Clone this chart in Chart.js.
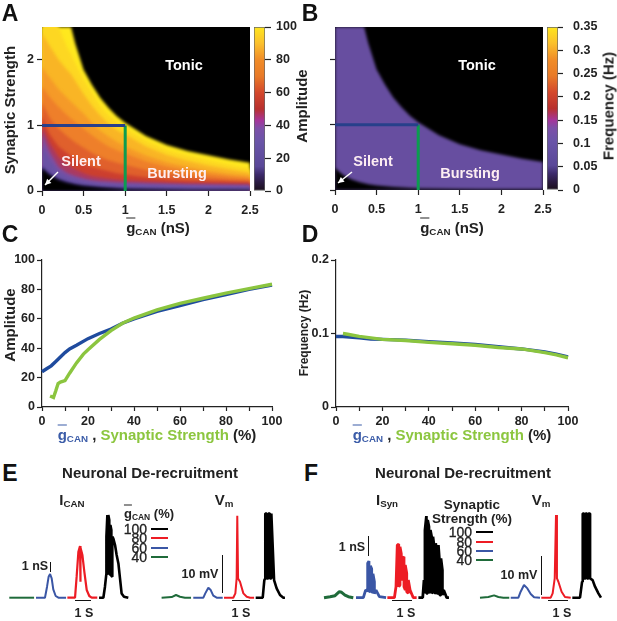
<!DOCTYPE html>
<html>
<head>
<meta charset="utf-8">
<script src="https://cdn.jsdelivr.net/npm/chart.js@4"></script>
<style>
  html, body { margin: 0; padding: 0; background: #fff; }
  #page { position: relative; width: 617px; height: 621px; overflow: hidden; font-family: "Liberation Sans", Arial, sans-serif; color: #222; }
  canvas { position: absolute; }
  .t { position: absolute; white-space: nowrap; transform: translate(-50%, -50%); font-weight: bold; font-size: 15px; line-height: 1; }
  .t sub { font-size: 0.65em; vertical-align: -0.3em; line-height: 0; }
  .o { text-decoration: overline; }
  .rot { transform: translate(-50%, -50%) rotate(-90deg); }
  .letter { font-size: 23px; color: #111; }
  .light { color: #fdeef2; }
  .rowlab { font-size: 14px; font-weight: normal; transform: translate(-100%, -50%); -webkit-text-stroke: 0.3px #222; }
  .bar { position: absolute; background: #111; }
</style>
</head>
<body>
<div id="page"></div>
<script>
// heatmap columns (gCAN, nS) and iso-amplitude contours (synaptic strength at each column)
const gbar = [0, .05, .1, .2, .3, .35, .4, .5, .6, .7, .8, .9, 1, 1.25, 1.5, 1.75, 2, 2.25, 2.5]
const tonicEdge = [2.5, 2.5, 2.5, 2.5, 2.5, 2.5, 2.25, 1.85, 1.62, 1.42, 1.27, 1.14, 1.04, .84, .70, .61, .545, .48, .43]
const amp95 = [2.9, 2.8, 2.7, 2.5, 2.2, 2.08, 1.95, 1.7, 1.5, 1.3, 1.16, 1.05, .96, .77, .63, .54, .47, .40, .34]
const amp90 = [2.4, 2.3, 2.2, 2.0, 1.85, 1.78, 1.68, 1.48, 1.3, 1.15, 1.02, .93, .86, .68, .55, .46, .39, .33, .28]
const amp85 = [1.9, 1.8, 1.72, 1.55, 1.42, 1.36, 1.3, 1.18, 1.04, .92, .83, .75, .68, .54, .44, .37, .31, .26, .23]
const amp80 = [1.6, 1.5, 1.42, 1.28, 1.16, 1.1, 1.05, .95, .85, .76, .68, .62, .57, .45, .37, .31, .26, .22, .19]
const amp70 = [1.35, 1.22, 1.1, .95, .84, .79, .74, .66, .58, .52, .47, .43, .4, .32, .27, .23, .2, .17, .155]
const amp60 = [1.15, .98, .85, .68, .58, .53, .49, .42, .37, .33, .3, .27, .25, .21, .18, .16, .15, .14, .13]
const amp50 = [1.0, .85, .72, .52, .41, .37, .33, .27, .23, .21, .19, .175, .165, .145, .13, .12, .115, .11, .105]
const amp40 = [.9, .72, .58, .37, .28, .25, .23, .19, .165, .15, .14, .13, .125, .115, .105, .10, .095, .09, .087]
const amp30 = [.7, .58, .46, .30, .23, .205, .185, .155, .135, .12, .11, .105, .1, .09, .082, .076, .07, .066, .062]
const amp20 = [.38, .32, .27, .19, .145, .125, .11, .09, .075, .062, .055, .048, .042, .035, .03, .026, .024, .022, .02]
const amp10 = [.35, .29, .24, .17, .13, .112, .097, .077, .063, .052, .043, .035, .028, .023, .019, .016, .015, .014, .013]
const silentEdge = [.34, .28, .23, .16, .12, .105, .09, .07, .057, .047, .038, .03, .024, .02, .016, .013, .012, .011, .01]

// colour under each contour, top contour first
const ampContours = [tonicEdge, amp95, amp90, amp85, amp80, amp70, amp60, amp50, amp40, amp30, amp20, amp10, silentEdge]
const ampBands = ['#ffe81e', '#fdd722', '#f9b525', '#f59a28', '#ee7f2a', '#e0602c', '#cc3f2e', '#a93a62', '#7d4ea2', '#6a52a5', '#4d3b8c', '#2c1f52', '#000000']
const freqBand = '#674ea0'

// colour bar
const barLevels = [0, .05, .1, .15, .3, .38, .43, .5, .6, .7, .8, .9, 1]
const barColors = ['#1a0f1a', '#2a1a40', '#3c2a6a', '#5a4898', '#6a55a8', '#7c50a8', '#a5359a', '#b8302e', '#d4482c', '#e87a28', '#f08c28', '#fbc02d', '#ffe61e']

// sweep lines on the heatmaps
const sweepG = [0, 1]
const sweepS = [1, 1]
const stepG = [1, 1]
const stepS = [1, 0]

// C and D
const blueAmpX = [0, 2, 4, 6, 8, 10, 12, 15, 20, 25, 30, 35, 40, 50, 60, 70, 80, 90, 100]
const blueAmpY = [24, 26, 28, 31, 34, 37, 39.5, 42, 46.5, 50, 53, 57, 60, 65, 69, 73, 76.5, 80, 83]
const greenAmpX = [3.5, 5, 6, 7, 8, 10, 12, 15, 18, 20, 25, 30, 35, 40, 50, 60, 70, 80, 90, 100]
const greenAmpY = [7.5, 6.5, 11, 16, 17, 18, 23, 30, 36, 39, 46, 52, 57, 60.5, 66, 70.5, 74, 77.5, 80.5, 83.5]
const blueFreqX = [0, 3, 10, 15, 20, 30, 40, 50, 60, 70, 80, 90, 95, 100]
const blueFreqY = [.096, .096, .094, .0925, .092, .091, .089, .087, .085, .082, .079, .075, .072, .068]
const greenFreqX = [3, 5, 10, 15, 20, 30, 40, 50, 60, 70, 80, 90, 95, 100]
const greenFreqY = [.1, .099, .096, .094, .092, .0905, .088, .086, .084, .081, .079, .074, .071, .067]

// E, ICAN traces: seconds, nS
const canT40 = [.58, 2.13]
const canY40 = [0, 0]
const canT60 = [2.25, 2.81, 2.94, 3.04, 3.13, 3.23, 3.33, 3.48, 3.65, 4.13]
const canY60 = [0, 0, 1.1, 2.1, 2.37, 1.93, .83, .17, 0, 0]
const canT80 = [4.21, 4.69, 4.79, 4.9, 5.0, 5.02, 5.04, 5.15, 5.27, 5.42, 5.58, 5.73, 6.08]
const canY80 = [0, 0, 2.1, 4.6, 5.17, 1.6, 5.03, 4.27, 2.6, .77, .17, 0, 0]
const canT100 = [6.19, 6.46, 6.56, 6.65, 6.65, 6.71, 6.71, 6.77, 6.77, 6.83, 6.83, 6.9, 6.9, 6.96, 6.96, 7.02, 7.02, 7.08, 7.19, 7.29, 7.4, 7.5, 7.6, 7.75, 8.02]
const canY100 = [0, 0, 1.1, 2.43, 6.1, 8.27, 2.43, 2.37, 8.27, 7.77, 2.43, 2.27, 7.27, 6.77, 2.17, 2.1, 6.1, 5.93, 5.27, 4.27, 3.43, 1.93, .43, .1, 0]

// E, Vm traces: seconds, mV
const vmT40 = [10.1, 10.73, 11, 11.25, 11.56, 11.94]
const vmY40 = [0, .17, .7, .26, 0, 0]
const vmT60 = [12.08, 12.71, 12.83, 13.02, 13.17, 13.33, 13.54, 13.92]
const vmY60 = [0, 0, 1.13, 2.6, 2, .52, 0, 0]
const vmT80 = [14, 14.58, 14.71, 14.79, 14.83, 14.88, 15, 15.21, 15.42, 15.63, 15.88]
const vmY80 = [0, 0, 1.13, 5.04, 21.4, 5.04, 4.17, 1.13, .26, 0, 0]
const vmT100 = [15.98, 16.42, 16.52, 16.58, 16.58, 16.67, 16.67, 16.77, 16.77, 16.87, 16.87, 16.96, 16.96, 17.13, 17.29, 17.5, 17.71, 17.81]
const vmY100 = [0, 0, 4.6, 5, 22, 22, 5, 5, 22, 22, 5, 5, 22, 4.6, 2.43, .7, 0, 0]

// F, ISyn traces: seconds, nS
const synT40 = [1.5, 1.88, 2.19, 2.46, 2.6, 2.81, 3.02, 3.33]
const synY40 = [0, .05, .1, .3, .27, .13, .05, 0]
const synT60 = [3.5, 3.96, 4.1, 4.23, 4.23, 4.31, 4.31, 4.4, 4.4, 4.48, 4.48, 4.56, 4.56, 4.65, 4.65, 4.75, 4.96, 5.38]
const synY60 = [0, 0, .38, .33, 1.72, 1.83, .3, .33, 1.6, 1.45, .3, .25, 1.2, .8, .2, .38, .05, 0]
const synT80 = [5.46, 5.9, 6, 6.08, 6.17, 6.17, 6.25, 6.25, 6.33, 6.33, 6.42, 6.42, 6.5, 6.5, 6.58, 6.58, 6.67, 6.67, 6.77, 6.77, 6.88, 7.08, 7.29]
const synY80 = [0, 0, .55, 2.63, 2.68, .55, .63, 2.55, 2.2, 1.05, .88, 1.97, 2.05, .55, .38, 1.63, 1.22, .3, .22, .88, .38, 0, 0]
const synT100 = [7.4, 7.67, 7.75, 7.81, 7.81, 7.9, 7.9, 7.98, 7.98, 8.06, 8.06, 8.15, 8.15, 8.23, 8.23, 8.31, 8.31, 8.4, 8.4, 8.48, 8.48, 8.56, 8.56, 8.65, 8.65, 8.73, 8.73, 8.81, 8.81, 8.9, 8.9, 8.98, 9.17, 9.31]
const synY100 = [0, 0, .88, .22, 3.38, 4.08, .22, .22, 3.88, 3.55, .3, .25, 3.38, 3.05, .22, .3, 3.05, 2.47, .22, .25, 2.72, 2.22, .22, .22, 2.63, 1.72, .13, .13, 1.97, 1.38, .13, .38, 0, 0]

// F, Vm traces: seconds, mV
const fvT40 = [11.25, 11.77, 12.13, 12.4, 12.71, 13.08]
const fvY40 = [0, .17, .6, .17, 0, 0]
const fvT60 = [13.17, 13.65, 13.79, 14, 14.21, 14.42, 14.63, 15]
const fvY60 = [0, 0, 1.56, 3.3, 2.43, .96, .1, 0]
const fvT80 = [15.08, 15.67, 15.79, 15.92, 16, 16.06, 16.15, 16.35, 16.56, 16.92]
const fvY80 = [0, 0, 1.13, 5.04, 21.6, 5.04, 4.17, 1.56, .2, 0]
const fvT100 = [17.02, 17.5, 17.63, 17.67, 17.67, 17.76, 17.76, 17.85, 17.85, 17.94, 17.94, 18.03, 18.03, 18.13, 18.13, 18.29, 18.44, 18.65, 18.81]
const fvY100 = [0, 0, 4.17, 5, 22, 22, 5, 5, 22, 22, 5, 5, 22, 22, 5.04, 4.6, 2.87, 1.13, 0]

const legendRows = ['100', '80', '60', '40']
const traceColors = ['#000000', '#ed1c24', '#3a56a5', '#1f6b3a']

const page = document.getElementById('page')
const FONT = { family: '"Liberation Sans", Arial, sans-serif', size: 12.5, weight: 'bold' }
const INK = '#222'

Chart.defaults.animation = false
Chart.defaults.responsive = false
Chart.defaults.plugins.legend.display = false
Chart.defaults.plugins.tooltip.enabled = false

function pts(xs, ys) {
  return xs.map((x, i) => ({ x: x, y: ys[i] }))
}

function shortNum(v) {
  return String(+(+v).toFixed(2))
}

// puts a canvas so that the plot area lands on the rect l,t,r,b
function place(l, t, r, b, pad, config) {
  const c = document.createElement('canvas')
  c.width = r - l + pad.left + pad.right
  c.height = b - t + pad.top + pad.bottom
  c.style.left = (l - pad.left) + 'px'
  c.style.top = (t - pad.top) + 'px'
  page.appendChild(c)
  config.options = config.options || {}
  config.options.layout = { padding: { top: pad.top, right: config.rightAxis ? 0 : pad.right, left: config.rightAxis ? pad.left : 0, bottom: 0 } }
  const sc = config.options.scales
  sc.x.afterFit = s => { s.height = pad.bottom }
  sc.y.afterFit = s => { s.width = config.rightAxis ? pad.right : pad.left }
  return new Chart(c, config)
}

function tickGrid(len) {
  return { display: true, drawOnChartArea: false, drawTicks: true, tickLength: len, tickColor: INK, tickWidth: 1.2 }
}

// black tonic region under everything, soft edges on the bands like the scanned original
function heatPlugin(lastBandIndex) {
  return {
    id: 'heat',
    beforeDatasetsDraw(chart) {
      const a = chart.chartArea
      chart.ctx.fillStyle = '#000'
      chart.ctx.fillRect(a.left, a.top, a.right - a.left, a.bottom - a.top)
      chart.ctx.filter = 'blur(1.6px)'
    },
    afterDatasetDraw(chart, args) {
      if (args.index === lastBandIndex) chart.ctx.filter = 'none'
    }
  }
}

function heatChart(l, t, r, b, contours, colors, showY) {
  const datasets = [
    { data: pts(sweepG, sweepS), borderColor: '#27408b', borderWidth: 3, pointRadius: 0, fill: false },
    { data: pts(stepG, stepS), borderColor: '#0c9c50', borderWidth: 3, pointRadius: 0, fill: false }
  ]
  // lowest contour first, it is painted last
  for (let i = contours.length - 1; i >= 0; i--) {
    datasets.push({ data: pts(gbar, contours[i]), borderWidth: 0, pointRadius: 0, backgroundColor: colors[i], fill: { value: 0 } })
  }
  return place(l, t, r, b, { left: 30, right: 20, top: 16, bottom: 28 }, {
    type: 'line',
    data: { datasets: datasets },
    plugins: [heatPlugin(2)],
    options: {
      scales: {
        x: { type: 'linear', min: 0, max: 2.5, border: { display: false }, grid: tickGrid(5), ticks: { stepSize: .5, font: FONT, color: INK, padding: 7, maxRotation: 0, callback: shortNum } },
        y: { type: 'linear', min: 0, max: 2.5, border: { display: false }, grid: tickGrid(5), ticks: { stepSize: 1, includeBounds: false, font: FONT, color: INK, padding: 3, display: showY, callback: shortNum } }
      }
    }
  })
}

function colorBar(l, t, r, b, top, step, tickLen, labelPad) {
  // top and bottom room must hold half a label plus the tick padding
  return place(l, t, r, b, { left: 2, right: 46, top: 20, bottom: 20 }, {
    type: 'bar',
    rightAxis: true,
    data: {
      labels: [''],
      datasets: [{
        data: [[0, top]],
        barPercentage: 1,
        categoryPercentage: 1,
        borderWidth: 1,
        borderColor: '#666',
        borderSkipped: false,
        backgroundColor(ctx) {
          const area = ctx.chart.chartArea
          const y = ctx.chart.scales.y
          if (!area || !y || !Number.isFinite(y.getPixelForValue(top))) return '#000'
          const g = ctx.chart.ctx.createLinearGradient(0, y.getPixelForValue(0), 0, y.getPixelForValue(top))
          barLevels.forEach((lv, i) => g.addColorStop(lv, barColors[i]))
          return g
        }
      }]
    },
    options: {
      scales: {
        x: { display: false },
        y: { position: 'right', min: 0, max: top, border: { display: false }, grid: tickGrid(tickLen), ticks: { stepSize: step, font: FONT, color: INK, padding: labelPad, callback: shortNum } }
      }
    }
  })
}

function curveChart(l, t, r, b, series, yMax, yStep) {
  return place(l, t, r, b, { left: 34, right: 20, top: 16, bottom: 26 }, {
    type: 'line',
    data: {
      datasets: series.map(s => ({ data: s.data, borderColor: s.color, borderWidth: 3.4, pointRadius: 0, fill: false, clip: false }))
    },
    options: {
      scales: {
        x: { type: 'linear', min: 0, max: 100, border: { color: INK, width: 1.2 }, grid: tickGrid(4), ticks: { stepSize: 10, autoSkip: false, font: FONT, color: INK, padding: 3, maxRotation: 0, callback: v => (v % 20 === 0 ? v : '') } },
        y: { type: 'linear', min: 0, max: yMax, border: { color: INK, width: 1.2 }, grid: tickGrid(5), ticks: { stepSize: yStep, font: FONT, color: INK, padding: 2, callback: shortNum } }
      }
    }
  })
}

// 16 px per second, zero level at the same height for every trace
function traceChart(l, r, tOffset, pxPerUnit, traces, widths) {
  const top = 510, bottom = 606, zero = 597.7
  return place(l, top, r, bottom, { left: 0, right: 0, top: 0, bottom: 0 }, {
    type: 'line',
    data: {
      datasets: traces.map((tr, i) => ({ data: pts(tr[0], tr[1]), borderColor: traceColors[3 - i], borderWidth: widths[i], pointRadius: 0, fill: false, borderJoinStyle: 'bevel', tension: 0 }))
    },
    options: {
      scales: {
        x: { type: 'linear', display: false, min: tOffset, max: tOffset + (r - l) / 16 },
        y: { type: 'linear', display: false, min: (zero - bottom) / pxPerUnit, max: (zero - top) / pxPerUnit }
      }
    }
  })
}

function text(html, x, y, cls, color, size) {
  const d = document.createElement('div')
  d.className = 't ' + (cls || '')
  d.innerHTML = html
  d.style.left = x + 'px'
  d.style.top = y + 'px'
  if (color) d.style.color = color
  if (size) d.style.fontSize = size + 'px'
  page.appendChild(d)
}

function bar(x, y, w, h, color) {
  const d = document.createElement('div')
  d.className = 'bar'
  d.style.cssText = 'left:' + x + 'px;top:' + y + 'px;width:' + w + 'px;height:' + h + 'px;' + (color ? 'background:' + color : '')
  page.appendChild(d)
}

function arrow(x1, y1, x2, y2) {
  const ns = 'http://www.w3.org/2000/svg'
  const s = document.createElementNS(ns, 'svg')
  s.setAttribute('width', 617)
  s.setAttribute('height', 621)
  s.style.cssText = 'position:absolute;left:0;top:0'
  const line = document.createElementNS(ns, 'line')
  line.setAttribute('x1', x1); line.setAttribute('y1', y1); line.setAttribute('x2', x2); line.setAttribute('y2', y2)
  line.setAttribute('stroke', '#fff'); line.setAttribute('stroke-width', 1.5)
  const dx = x2 - x1, dy = y2 - y1, n = Math.hypot(dx, dy), ux = dx / n, uy = dy / n
  const head = document.createElementNS(ns, 'polygon')
  head.setAttribute('points', [x2, y2, x2 - 6 * ux - 3 * uy, y2 - 6 * uy + 3 * ux, x2 - 6 * ux + 3 * uy, y2 - 6 * uy - 3 * ux].join(' '))
  head.setAttribute('fill', '#fff')
  s.appendChild(line); s.appendChild(head)
  page.appendChild(s)
}

// A, B
heatChart(42, 27, 250, 191, ampContours, ampBands, true)
colorBar(254, 27, 265, 191, 100, 20, 6, 5)
heatChart(335, 27, 543, 190, [tonicEdge, silentEdge], [freqBand, '#000000'], false)
colorBar(547, 27, 558, 190, .35, .05, 5, 10)

// C, D: green is listed first so it lies on top
curveChart(42, 260, 272, 407, [
  { data: pts(greenAmpX, greenAmpY), color: '#8bc53f' },
  { data: pts(blueAmpX, blueAmpY), color: '#1f4b9e' }
], 100, 20)
curveChart(336, 260, 568, 407, [
  { data: pts(greenFreqX, greenFreqY), color: '#8bc53f' },
  { data: pts(blueFreqX, blueFreqY), color: '#1f4b9e' }
], .2, .1)

// E, F
traceChart(0, 140, 0, 10, [[canT40, canY40], [canT60, canY60], [canT80, canY80], [canT100, canY100]], [2, 2, 2.2, 2.6])
traceChart(155, 295, 155 / 16, 3.83, [[vmT40, vmY40], [vmT60, vmY60], [vmT80, vmY80], [vmT100, vmY100]], [2, 2, 2, 2.6])
traceChart(320, 455, 20 / 16, 20, [[synT40, synY40], [synT60, synY60], [synT80, synY80], [synT100, synY100]], [3, 2.8, 2.8, 2.8])
traceChart(470, 610, 170 / 16, 3.83, [[fvT40, fvY40], [fvT60, fvY60], [fvT80, fvY80], [fvT100, fvY100]], [2, 2, 2, 2.6])

// panel letters
text('A', 10, 13, 'letter')
text('B', 310, 13, 'letter')
text('C', 10, 234, 'letter')
text('D', 310, 234, 'letter')
text('E', 10, 473, 'letter')
text('F', 311, 473, 'letter')

// axis labels
text('Synaptic Strength', 9, 110, 'rot')
text('Amplitude', 301, 106, 'rot')
text('Frequency (Hz)', 608, 106, 'rot')
text('Amplitude', 9, 325, 'rot')
text('Frequency (Hz)', 304, 333, 'rot', null, 12)
text('<span class="o">g</span><sub>CAN</sub> (nS)', 158, 227)
text('<span class="o">g</span><sub>CAN</sub> (nS)', 452, 227)

const blueText = '#3b5ca8', greenText = '#8cc63f'
function sweepLabel(x) {
  text('<span style="color:' + blueText + '"><span class="o">g</span><sub>CAN</sub></span> , <span style="color:' + greenText + '">Synaptic Strength</span> (%)', x, 434)
}
sweepLabel(157)
sweepLabel(452)

// labels on the heatmaps
text('Tonic', 184, 65, 'light', '#fff', 14.5)
text('Silent', 81, 161, 'light', null, 14.5)
text('Bursting', 177, 173, 'light', null, 14.5)
text('Tonic', 477, 65, 'light', '#fff', 14.5)
text('Silent', 373, 161, 'light', null, 14.5)
text('Bursting', 470, 173, 'light', null, 14.5)
arrow(58, 172, 45, 185)
arrow(352, 172, 338, 183)

// E, F texts
text('Neuronal De-recruitment', 150, 472)
text('Neuronal De-recruitment', 463, 472)
text('I<sub>CAN</sub>', 72, 499, null, null, 15)
text('V<sub>m</sub>', 224, 499, null, null, 15)
text('I<sub>Syn</sub>', 387, 499, null, null, 15)
text('V<sub>m</sub>', 541, 499, null, null, 15)

text('<span class="o">g</span><sub>CAN</sub> (%)', 149, 513, null, null, 13)
text('Synaptic', 472, 505, null, null, 13.5)
text('Strength (%)', 472, 519, null, null, 13.5)
const rowsE = [529, 538, 548, 557], rowsF = [532, 542, 551, 560]
legendRows.forEach((lab, i) => {
  text(lab, 147, rowsE[i], 'rowlab')
  bar(151, rowsE[i] - 1, 17, 2, traceColors[i])
  text(lab, 472, rowsF[i], 'rowlab')
  bar(476, rowsF[i] - 1, 17, 2, traceColors[i])
})

// scale bars
text('1 nS', 35, 566, null, null, 12.5)
bar(49.5, 562, 1.2, 10)
bar(75, 600, 16, 1.2)
text('1 S', 84, 613, null, null, 12.5)
text('10 mV', 200, 574, null, null, 12.5)
bar(222, 555, 1.2, 38)
bar(232, 600, 18, 1.2)
text('1 S', 241, 613, null, null, 12.5)
text('1 nS', 352, 547, null, null, 12.5)
bar(368, 536, 1.2, 20)
bar(392, 600, 20, 1.2)
text('1 S', 406, 613, null, null, 12.5)
text('10 mV', 519, 575, null, null, 12.5)
bar(540.5, 556, 1.2, 39)
bar(548, 600, 20, 1.2)
text('1 S', 562, 613, null, null, 12.5)
</script>
</body>
</html>
